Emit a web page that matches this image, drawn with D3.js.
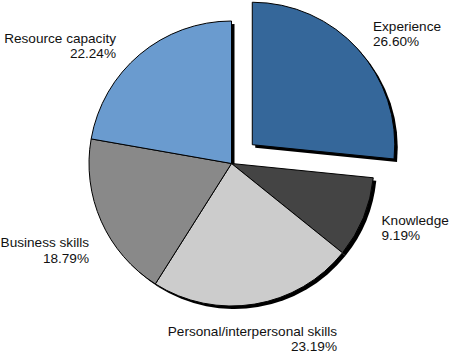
<!DOCTYPE html>
<html>
<head>
<meta charset="utf-8">
<script src="https://cdn.jsdelivr.net/npm/d3@7"></script>
<style>
  html, body { margin: 0; padding: 0; background: #fff; }
  svg { display: block; }
  text { font-family: "Liberation Sans", Arial, Helvetica, sans-serif; font-size: 13.6px; fill: #111; }
</style>
</head>
<body>
<div id="chart"></div>
<script>
const categories = ["Experience", "Knowledge", "Personal/interpersonal skills", "Business skills", "Resource capacity"];
const values = [26.60, 9.19, 23.19, 18.79, 22.24];
const valueLabels = ["26.60%", "9.19%", "23.19%", "18.79%", "22.24%"];
const colors = ["#35679a", "#444444", "#cccccc", "#898989", "#6a9bcf"];
const exploded = [true, false, false, false, false];

const W = 450, H = 356;
const cx = 231.5, cy = 163.5, R = 142.5, explode = 28;

const svg = d3.select("#chart").append("svg").attr("width", W).attr("height", H);

const data = categories.map((c, i) => ({ name: c, value: values[i], label: valueLabels[i], color: colors[i], exploded: exploded[i] }));
const pie = d3.pie().value(d => d.value).sort(null).startAngle(0).endAngle(2 * Math.PI);
const arcs = pie(data);
const arc = d3.arc().innerRadius(0).outerRadius(R);

function offset(a) {
  if (!a.data.exploded) return [0, 0];
  const mid = (a.startAngle + a.endAngle) / 2;
  return [Math.sin(mid) * explode, -Math.cos(mid) * explode];
}

const g = svg.append("g").attr("transform", `translate(${cx},${cy})`);

// shadows
g.selectAll("path.shadow").data(arcs).enter().append("path")
  .attr("class", "shadow")
  .attr("d", arc)
  .attr("fill", "#000")
  .attr("transform", a => { const o = offset(a); return `translate(${o[0] + 3},${o[1] + 3})`; });

// slices
g.selectAll("path.slice").data(arcs).enter().append("path")
  .attr("class", "slice")
  .attr("d", arc)
  .attr("fill", a => a.data.color)
  .attr("stroke", "#000")
  .attr("stroke-width", 1)
  .attr("stroke-linejoin", "round")
  .attr("transform", a => { const o = offset(a); return `translate(${o[0]},${o[1]})`; });

// labels (anchor positions per category)
const labelPos = [
  { x: 373, y: 30.5, anchor: "start" },
  { x: 381.5, y: 224.5, anchor: "start" },
  { x: 337, y: 335.5, anchor: "end" },
  { x: 89, y: 247, anchor: "end" },
  { x: 116, y: 42.5, anchor: "end" }
];

const lg = svg.append("g");
data.forEach((d, i) => {
  const p = labelPos[i];
  const t = lg.append("text").attr("text-anchor", p.anchor);
  t.append("tspan").attr("x", p.x).attr("y", p.y).text(d.name);
  t.append("tspan").attr("x", p.x).attr("y", p.y + 15.5).text(d.label);
});
</script>
</body>
</html>
